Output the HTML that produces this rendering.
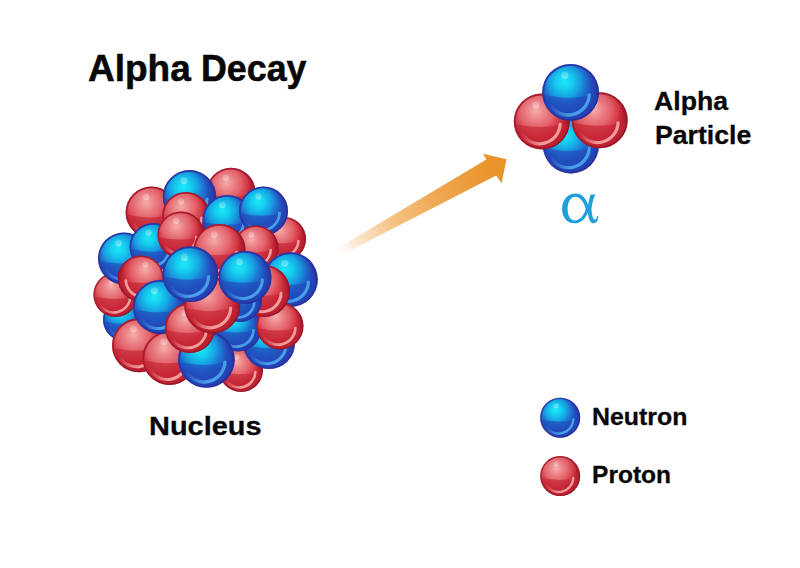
<!DOCTYPE html>
<html>
<head>
<meta charset="utf-8">
<title>Alpha Decay</title>
<style>
html,body{margin:0;padding:0;background:#fff;}
body{width:800px;height:568px;overflow:hidden;position:relative;font-family:"Liberation Sans",sans-serif;}
svg{position:absolute;left:0;top:0;}
.t{position:absolute;white-space:nowrap;font-weight:bold;color:#080808;line-height:1;transform-origin:0 0;-webkit-text-stroke:0.3px #080808;}
#title,#title2{-webkit-text-stroke:0.55px #080808;}
</style>
</head>
<body>
<svg width="800" height="568" viewBox="0 0 800 568">
<defs>
<radialGradient id="gb" cx="-0.08" cy="-0.06" r="1.08" gradientUnits="userSpaceOnUse">
<stop offset="0" stop-color="#1e70d2"/>
<stop offset="0.6" stop-color="#205cc6"/>
<stop offset="0.82" stop-color="#2547b7"/>
<stop offset="0.94" stop-color="#2836a5"/>
<stop offset="1" stop-color="#262c98"/>
</radialGradient>
<radialGradient id="hb" cx="-0.22" cy="-0.38" r="0.98" gradientUnits="userSpaceOnUse">
<stop offset="0" stop-color="#1ceaf8" stop-opacity="1"/>
<stop offset="0.3" stop-color="#14ceee" stop-opacity="0.98"/>
<stop offset="0.58" stop-color="#16ace6" stop-opacity="0.82"/>
<stop offset="0.82" stop-color="#1b88da" stop-opacity="0.4"/>
<stop offset="1" stop-color="#1e70d2" stop-opacity="0"/>
</radialGradient>
<radialGradient id="gr" cx="-0.08" cy="-0.06" r="1.08" gradientUnits="userSpaceOnUse">
<stop offset="0" stop-color="#da3a46"/>
<stop offset="0.6" stop-color="#d22e3b"/>
<stop offset="0.82" stop-color="#c02432"/>
<stop offset="0.94" stop-color="#a81a2a"/>
<stop offset="1" stop-color="#941424"/>
</radialGradient>
<radialGradient id="hr" cx="-0.2" cy="-0.38" r="1.02" gradientUnits="userSpaceOnUse">
<stop offset="0" stop-color="#f5aeaa" stop-opacity="1"/>
<stop offset="0.3" stop-color="#ec888c" stop-opacity="0.96"/>
<stop offset="0.6" stop-color="#e66c74" stop-opacity="0.82"/>
<stop offset="0.85" stop-color="#df525c" stop-opacity="0.42"/>
<stop offset="1" stop-color="#dc3e4a" stop-opacity="0"/>
</radialGradient>
<radialGradient id="spec" cx="0" cy="0" r="1" gradientUnits="userSpaceOnUse">
<stop offset="0" stop-color="#fff" stop-opacity="1"/>
<stop offset="0.22" stop-color="#fff" stop-opacity="0.92"/>
<stop offset="0.55" stop-color="#fff" stop-opacity="0.35"/>
<stop offset="1" stop-color="#fff" stop-opacity="0"/>
</radialGradient>
<linearGradient id="cfb" x1="-0.75" y1="0.45" x2="0.0" y2="0.75" gradientUnits="userSpaceOnUse">
<stop offset="0" stop-color="#4aa3ec" stop-opacity="0"/>
<stop offset="1" stop-color="#4aa3ec" stop-opacity="0.95"/>
</linearGradient>
<linearGradient id="cfr" x1="-0.75" y1="0.45" x2="0.0" y2="0.75" gradientUnits="userSpaceOnUse">
<stop offset="0" stop-color="#f4a3a0" stop-opacity="0"/>
<stop offset="1" stop-color="#f4a3a0" stop-opacity="0.95"/>
</linearGradient>
<clipPath id="cc"><circle r="0.95"/></clipPath>
<g id="sb">
<circle r="1" fill="url(#gb)"/>
<circle r="0.94" fill="url(#hb)"/>
<circle r="0.965" fill="none" stroke="#2a2e9e" stroke-width="0.07" opacity="0.5"/>
<path clip-path="url(#cc)" d="M-1 0.08 Q0 0.3 0.7 0.1 L1 0.1 L1 1 L-1 1Z" fill="#2246b8" opacity="0.6"/>
<path d="M0.655 0.09 A0.735 0.735 0 0 1 -0.72 0.42" fill="none" stroke="url(#cfb)" stroke-width="0.115" stroke-linecap="round"/>
<circle cx="-0.21" cy="-0.6" r="0.13" fill="url(#spec)"/>
</g>
<g id="sr">
<circle r="1" fill="url(#gr)"/>
<circle r="0.94" fill="url(#hr)"/>
<circle r="0.965" fill="none" stroke="#96142a" stroke-width="0.07" opacity="0.5"/>
<path clip-path="url(#cc)" d="M-1 0.08 Q0 0.3 0.7 0.1 L1 0.1 L1 1 L-1 1Z" fill="#c22333" opacity="0.62"/>
<path d="M0.655 0.09 A0.735 0.735 0 0 1 -0.72 0.42" fill="none" stroke="url(#cfr)" stroke-width="0.115" stroke-linecap="round"/>
<circle cx="-0.21" cy="-0.6" r="0.13" fill="url(#spec)"/>
</g>
<linearGradient id="ga" x1="339" y1="250" x2="492" y2="167" gradientUnits="userSpaceOnUse">
<stop offset="0" stop-color="#f8d0a0" stop-opacity="0"/>
<stop offset="0.12" stop-color="#f7cc98" stop-opacity="0.5"/>
<stop offset="0.35" stop-color="#f4bc78" stop-opacity="0.92"/>
<stop offset="0.65" stop-color="#efa750" stop-opacity="1"/>
<stop offset="1" stop-color="#e9932b" stop-opacity="1"/>
</linearGradient>
</defs>
<!-- arrow -->
<path d="M338 248 L486.4 159.6 L483 153.8 L506.5 159.3 L501.5 183.3 L496.2 175.4 L341.5 255Z" fill="url(#ga)"/>
<use href="#sb" transform="translate(125 319.5) scale(22 22)"/>
<use href="#sr" transform="translate(231 192.3) scale(24.5 24.5)"/>
<use href="#sr" transform="translate(284 239) scale(22 22)"/>
<use href="#sr" transform="translate(151.5 212.4) scale(25.9 25.9)"/>
<use href="#sb" transform="translate(189.5 196.8) scale(26.7 26.7)"/>
<use href="#sr" transform="translate(186 215.8) scale(23.8 23.8)"/>
<use href="#sb" transform="translate(227.5 220) scale(25 25)"/>
<use href="#sb" transform="translate(263.5 211) scale(24.5 24.5)"/>
<use href="#sr" transform="translate(115.7 294.7) scale(22.3 22.3)"/>
<use href="#sb" transform="translate(124 258.5) scale(26 26)"/>
<use href="#sb" transform="translate(153.5 247) scale(24 24)"/>
<use href="#sr" transform="translate(181 235) scale(23.5 23.5)"/>
<use href="#sr" transform="translate(256 248) scale(22.5 22.5)"/>
<use href="#sr" transform="translate(219.5 250) scale(26 26)"/>
<use href="#sr" transform="translate(140.8 278.5) scale(-23 23)"/>
<use href="#sr" transform="translate(241 370) scale(22 22)"/>
<use href="#sb" transform="translate(269 343) scale(26 26)"/>
<use href="#sb" transform="translate(238.2 328) scale(23.4 23.4)"/>
<use href="#sr" transform="translate(139 345.3) scale(27 27)"/>
<use href="#sr" transform="translate(169.5 358) scale(27 27)"/>
<use href="#sb" transform="translate(206.4 359.5) scale(28.3 28.3)"/>
<use href="#sb" transform="translate(160 307) scale(27 27)"/>
<use href="#sr" transform="translate(190 328) scale(25 25)"/>
<use href="#sb" transform="translate(290.5 279.6) scale(27.3 27.3)"/>
<use href="#sr" transform="translate(280 326) scale(23.5 23.5)"/>
<use href="#sr" transform="translate(264 291) scale(26 26)"/>
<use href="#sb" transform="translate(240 300) scale(22 22)"/>
<use href="#sr" transform="translate(212.3 305.5) scale(28 28)"/>
<use href="#sb" transform="translate(245 277.5) scale(26.5 26.5)"/>
<use href="#sb" transform="translate(190.3 274.2) scale(27.9 27.9)"/>
<use href="#sb" transform="translate(570.9 145.4) scale(28 28)"/>
<use href="#sr" transform="translate(541.8 121.5) scale(28 28)"/>
<use href="#sr" transform="translate(599.7 120.3) scale(28 28)"/>
<use href="#sb" transform="translate(570.6 92.4) scale(28.4 28.4)"/>
<use href="#sb" transform="translate(560.2 417.7) scale(20 20)"/>
<use href="#sr" transform="translate(560.2 476.1) scale(20 20)"/>
<!-- alpha glyph -->
<path transform="translate(550 180) scale(0.09677)" fill="#1f9fd9" fill-rule="evenodd" d="M265 140 C180 140 125 210 125 300 C125 385 175 447 255 447 C320 447 365 400 392 335 C398 400 415 447 450 447 C482 447 499 415 499 372 L488 372 C485 396 476 410 464 410 C444 410 435 370 428 300 C435 240 450 190 468 150 L420 150 C408 185 400 225 393 262 C375 190 330 140 265 140 Z M262 172 C218 172 182 218 182 300 C182 376 214 418 258 418 C308 418 352 368 369 300 C354 232 312 172 262 172 Z"/>
</svg>
<div class="t" id="title" style="left:88px;top:50.4px;font-size:37px;">Alpha</div>
<div class="t" id="title2" style="left:201.3px;top:50.4px;font-size:37px;transform:scaleX(0.967);">Decay</div>
<div class="t" id="ap1" style="left:654.4px;top:88.8px;font-size:25px;transform:scaleX(1.065);">Alpha</div>
<div class="t" id="ap2" style="left:654.9px;top:123.3px;font-size:25px;transform:scaleX(1.065);">Particle</div>
<div class="t" id="nuc" style="left:149.1px;top:413.3px;font-size:26.5px;transform:scaleX(1.092);">Nucleus</div>
<div class="t" id="neu" style="left:592.1px;top:404.7px;font-size:24.5px;transform:scaleX(1.015);">Neutron</div>
<div class="t" id="pro" style="left:592.1px;top:462.9px;font-size:24.5px;transform:scaleX(1.0);">Proton</div>
</body>
</html>
